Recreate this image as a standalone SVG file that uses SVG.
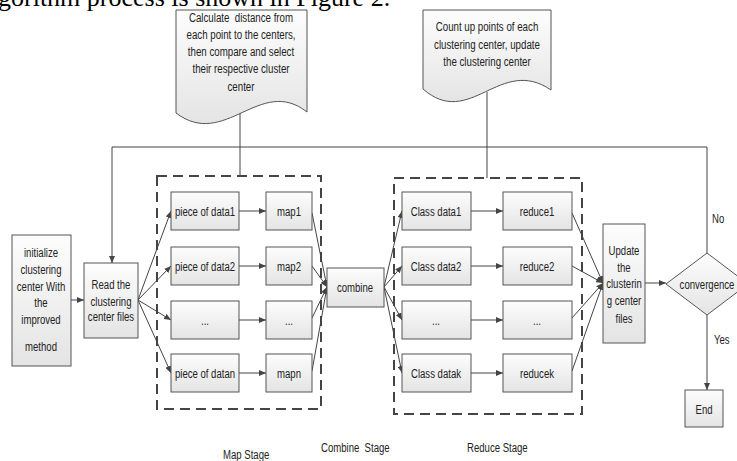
<svg xmlns="http://www.w3.org/2000/svg" width="737" height="461" viewBox="0 0 737 461">
<style>
  .bx { fill: url(#g); stroke: #555; stroke-width: 1; }
  .t { font-family: "Liberation Sans", Arial, sans-serif; font-size: 13.5px; fill: #222; text-anchor: middle; }
  .tl { font-family: "Liberation Sans", Arial, sans-serif; font-size: 13.5px; fill: #222; }
  .ln { fill: none; stroke: #444; stroke-width: 1; }
  .dash { fill: none; stroke: #444; stroke-width: 2; stroke-dasharray: 10 6; }
</style>
<defs>
  <linearGradient id="g" x1="0" y1="0" x2="0" y2="1">
    <stop offset="0" stop-color="#fdfdfd"/>
    <stop offset="1" stop-color="#e4e4e4"/>
  </linearGradient>
  <marker id="a" markerWidth="7" markerHeight="6" refX="7" refY="3" orient="auto" markerUnits="userSpaceOnUse">
    <path d="M0,0 L7,3 L0,6 Z" fill="#444"/>
  </marker>
</defs>
<rect width="737" height="461" fill="#fff"/>

<text x="-2" y="6" font-family="Liberation Serif, serif" font-size="26" fill="#000">gorithm process is shown in Figure 2.</text>

<g id="frames">
  <rect class="dash" x="157" y="176" width="164" height="233"/>
  <rect class="dash" x="394" y="178" width="188" height="236"/>
</g>

<g id="connectors">
  <path class="ln" d="M240,112 V176"/>
  <path class="ln" d="M487,92 V178"/>
  <path class="ln" d="M707,253 V147 H112 V263" marker-end="url(#a)"/>
  <path class="ln" d="M71,300 H84" marker-end="url(#a)"/>
  <path class="ln" d="M138,300 L171,211" marker-end="url(#a)"/>
  <path class="ln" d="M138,300 L171,266" marker-end="url(#a)"/>
  <path class="ln" d="M138,300 L171,320" marker-end="url(#a)"/>
  <path class="ln" d="M138,300 L171,373" marker-end="url(#a)"/>
  <path class="ln" d="M239,211 H266" marker-end="url(#a)"/>
  <path class="ln" d="M239,266 H266" marker-end="url(#a)"/>
  <path class="ln" d="M239,320 H266" marker-end="url(#a)"/>
  <path class="ln" d="M239,373 H266" marker-end="url(#a)"/>
  <path class="ln" d="M312,213 L327,287" marker-end="url(#a)"/>
  <path class="ln" d="M312,266 L327,287" marker-end="url(#a)"/>
  <path class="ln" d="M312,318 L327,287" marker-end="url(#a)"/>
  <path class="ln" d="M312,371 L327,287" marker-end="url(#a)"/>
  <path class="ln" d="M384,287 L402,211" marker-end="url(#a)"/>
  <path class="ln" d="M384,287 L402,266" marker-end="url(#a)"/>
  <path class="ln" d="M384,287 L402,320" marker-end="url(#a)"/>
  <path class="ln" d="M384,287 L402,373" marker-end="url(#a)"/>
  <path class="ln" d="M471,211 H503" marker-end="url(#a)"/>
  <path class="ln" d="M471,266 H503" marker-end="url(#a)"/>
  <path class="ln" d="M471,320 H503" marker-end="url(#a)"/>
  <path class="ln" d="M471,373 H503" marker-end="url(#a)"/>
  <path class="ln" d="M572,213 L603,283" marker-end="url(#a)"/>
  <path class="ln" d="M572,266 L603,283" marker-end="url(#a)"/>
  <path class="ln" d="M572,318 L603,283" marker-end="url(#a)"/>
  <path class="ln" d="M572,371 L603,283" marker-end="url(#a)"/>
  <path class="ln" d="M645,283 H666" marker-end="url(#a)"/>
  <path class="ln" d="M707,315 V390" marker-end="url(#a)"/>
  <text class="tl" transform="translate(712,223) scale(.71,1)">No</text>
  <text class="tl" transform="translate(714,344) scale(.71,1)">Yes</text>
</g>

<g id="note1">
  <path class="bx" d="M176,10 H307 V112 C260,75 225,150 176,113 Z"/>
  <text class="t" xml:space="preserve" transform="translate(241,22) scale(.72,1)">Calculate  distance from</text>
  <text class="t" transform="translate(241,39) scale(.72,1)">each point to the centers,</text>
  <text class="t" transform="translate(241,56) scale(.72,1)">then compare and select</text>
  <text class="t" transform="translate(241,73) scale(.72,1)">their respective cluster</text>
  <text class="t" transform="translate(241,91) scale(.72,1)">center</text>
</g>
<g id="note2">
  <path class="bx" d="M423,10 H551 V90 C500,55 470,130 423,89 Z"/>
  <text class="t" transform="translate(487,31) scale(.72,1)">Count up points of each</text>
  <text class="t" transform="translate(487,49) scale(.72,1)">clustering center, update</text>
  <text class="t" transform="translate(487,66) scale(.72,1)">the clustering center</text>
</g>

<g id="init">
  <rect class="bx" x="12" y="235" width="59" height="131"/>
  <text class="t" transform="translate(41,257) scale(.71,1)">initialize</text>
  <text class="t" transform="translate(41,274) scale(.71,1)">clustering</text>
  <text class="t" transform="translate(41,291) scale(.71,1)">center With</text>
  <text class="t" transform="translate(41,307) scale(.71,1)">the</text>
  <text class="t" transform="translate(41,324) scale(.71,1)">improved</text>
  <text class="t" transform="translate(41,351) scale(.71,1)">method</text>
</g>
<g id="read">
  <rect class="bx" x="84" y="263" width="54" height="75"/>
  <text class="t" transform="translate(111,289) scale(.71,1)">Read the</text>
  <text class="t" transform="translate(111,306) scale(.71,1)">clustering</text>
  <text class="t" transform="translate(111,321) scale(.71,1)">center files</text>
</g>

<g id="piece1"><rect class="bx" x="171" y="192" width="68" height="38"/><text class="t" transform="translate(205,216) scale(.71,1)">piece of data1</text></g>
<g id="piece2"><rect class="bx" x="171" y="247" width="68" height="38"/><text class="t" transform="translate(205,271) scale(.71,1)">piece of data2</text></g>
<g id="piece3"><rect class="bx" x="171" y="301" width="68" height="38"/><text class="t" transform="translate(205,325) scale(.71,1)">...</text></g>
<g id="piecen"><rect class="bx" x="171" y="354" width="68" height="38"/><text class="t" transform="translate(205,378) scale(.71,1)">piece of datan</text></g>

<g id="map1"><rect class="bx" x="266" y="192" width="46" height="38"/><text class="t" transform="translate(289,216) scale(.71,1)">map1</text></g>
<g id="map2"><rect class="bx" x="266" y="247" width="46" height="38"/><text class="t" transform="translate(289,271) scale(.71,1)">map2</text></g>
<g id="map3"><rect class="bx" x="266" y="301" width="46" height="38"/><text class="t" transform="translate(289,325) scale(.71,1)">...</text></g>
<g id="mapn"><rect class="bx" x="266" y="354" width="46" height="38"/><text class="t" transform="translate(289,378) scale(.71,1)">mapn</text></g>

<g id="combine"><rect class="bx" x="327" y="268" width="57" height="39"/><text class="t" transform="translate(355,292) scale(.71,1)">combine</text></g>

<g id="class1"><rect class="bx" x="402" y="192" width="69" height="38"/><text class="t" transform="translate(436,216) scale(.71,1)">Class data1</text></g>
<g id="class2"><rect class="bx" x="402" y="247" width="69" height="38"/><text class="t" transform="translate(436,271) scale(.71,1)">Class data2</text></g>
<g id="class3"><rect class="bx" x="402" y="301" width="69" height="38"/><text class="t" transform="translate(436,325) scale(.71,1)">...</text></g>
<g id="classk"><rect class="bx" x="402" y="354" width="69" height="38"/><text class="t" transform="translate(436,378) scale(.71,1)">Class datak</text></g>

<g id="reduce1"><rect class="bx" x="503" y="192" width="69" height="38"/><text class="t" transform="translate(537,216) scale(.71,1)">reduce1</text></g>
<g id="reduce2"><rect class="bx" x="503" y="247" width="69" height="38"/><text class="t" transform="translate(537,271) scale(.71,1)">reduce2</text></g>
<g id="reduce3"><rect class="bx" x="503" y="301" width="69" height="38"/><text class="t" transform="translate(537,325) scale(.71,1)">...</text></g>
<g id="reducek"><rect class="bx" x="503" y="354" width="69" height="38"/><text class="t" transform="translate(537,378) scale(.71,1)">reducek</text></g>

<g id="update">
  <rect class="bx" x="603" y="224" width="42" height="119"/>
  <text class="t" transform="translate(624,255) scale(.71,1)">Update</text>
  <text class="t" transform="translate(624,272) scale(.71,1)">the</text>
  <text class="t" transform="translate(624,288) scale(.71,1)">clusterin</text>
  <text class="t" transform="translate(624,305) scale(.71,1)">g center</text>
  <text class="t" transform="translate(624,323) scale(.71,1)">files</text>
</g>

<g id="convergence">
  <path class="bx" d="M666,284 L707,253 L748,284 L707,315 Z"/>
  <text class="t" transform="translate(707,289) scale(.71,1)">convergence</text>
</g>

<g id="end"><rect class="bx" x="685" y="390" width="38" height="37"/><text class="t" transform="translate(704,414) scale(.71,1)">End</text></g>

<g id="stages">
  <text class="tl" transform="translate(223,459) scale(.71,1)">Map Stage</text>
  <text class="tl" xml:space="preserve" transform="translate(321,452) scale(.71,1)">Combine  Stage</text>
  <text class="tl" transform="translate(467,452) scale(.71,1)">Reduce Stage</text>
</g>
</svg>
